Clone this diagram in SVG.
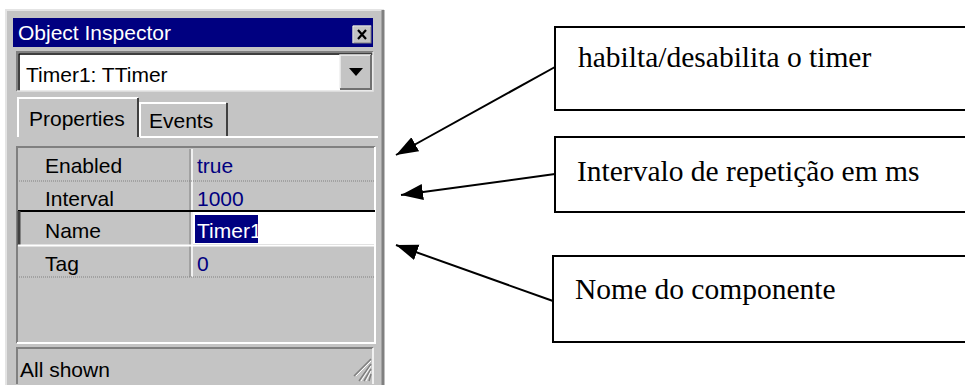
<svg xmlns="http://www.w3.org/2000/svg" width="965" height="385" viewBox="0 0 965 385">
<style>
.ui{font-family:"Liberation Sans",Arial,sans-serif;font-size:21px;fill:#000}
.val{fill:#000080}
.note{fill:#fff;stroke:#000;stroke-width:2}
.nt{font-family:"Liberation Serif","Times New Roman",serif;font-size:29.5px;fill:#000}
.conn{stroke:#000;stroke-width:2;fill:none;marker-end:url(#ah)}
.dot{stroke:#808080;stroke-width:1;stroke-dasharray:1 1}
</style>
<defs>
<marker id="ah" markerUnits="userSpaceOnUse" markerWidth="24" markerHeight="18" refX="22" refY="8" orient="auto">
<path d="M0,0 L22,8 L0,16 z" fill="#000"/>
</marker>
</defs>
<rect width="965" height="385" fill="#fff"/>
<g id="inspector">
<rect x="6" y="10" width="378" height="380" fill="#c4c4c4"/>
<path d="M6,390 V10 H384" fill="none" stroke="#e4e4e4" stroke-width="2"/>
<path d="M383,10 V390" fill="none" stroke="#808080" stroke-width="3"/>
<rect x="13" y="18" width="360" height="29" fill="#000080"/>
<text x="18" y="40" class="ui" style="fill:#fff">Object Inspector</text>
<g id="close">
<rect x="353" y="26" width="18" height="17" fill="#c4c4c4" stroke="#808080"/>
<path d="M353,43 V26 H371" fill="none" stroke="#fff"/>
<path d="M358,30 L366,39 M366,30 L358,39" stroke="#000" stroke-width="2.2"/>
</g>
<rect x="17" y="52" width="356" height="39" fill="#fff"/>
<path d="M17,91 V52 H373" fill="none" stroke="#808080" stroke-width="2"/>
<path d="M19,91 V54 H373" fill="none" stroke="#000" stroke-width="1.5"/>
<path d="M17,91 H373 V52" fill="none" stroke="#e4e4e4" stroke-width="1.5"/>
<text x="26" y="82" class="ui">Timer1: TTimer</text>
<g id="dropdown">
<rect x="340" y="55" width="31" height="34" fill="#c4c4c4"/>
<path d="M340,89 V55 H371" fill="none" stroke="#f0f0f0" stroke-width="1.5"/>
<path d="M340,89 H371 V55" fill="none" stroke="#707070" stroke-width="2"/>
<path d="M349,68 H363 L356,76 z" fill="#000"/>
</g>
<g id="tabs">
<path d="M18,137 V98 H138" fill="none" stroke="#fff" stroke-width="2"/>
<path d="M138,98 V137" fill="none" stroke="#404040" stroke-width="2"/>
<path d="M140,137 V103 H226" fill="none" stroke="#fff" stroke-width="2"/>
<path d="M227,103 V137" fill="none" stroke="#404040" stroke-width="2"/>
<path d="M140,137 H378" fill="none" stroke="#fff" stroke-width="2"/>
<text x="29" y="126" class="ui">Properties</text>
<text x="149" y="128" class="ui">Events</text>
</g>
<g id="grid">
<rect x="17" y="147" width="358" height="196" fill="#c4c4c4"/>
<path d="M17,343 V147 H375" fill="none" stroke="#808080" stroke-width="2"/>
<path d="M17,343 H375 V147" fill="none" stroke="#fff" stroke-width="2"/>
<path d="M190,149 V277" stroke="#808080" stroke-width="1"/>
<path d="M192,149 V277" stroke="#fff" stroke-width="1.5"/>
<line x1="19" y1="181" x2="374" y2="181" class="dot"/>
<line x1="19" y1="277" x2="374" y2="277" class="dot"/>
<rect x="193" y="212" width="181" height="32" fill="#fff"/>
<path d="M18,211 H375" stroke="#000" stroke-width="2"/>
<path d="M19,211 V245" stroke="#404040" stroke-width="3"/>
<path d="M18,245.5 H375" stroke="#fff" stroke-width="2"/>
<rect x="195" y="215" width="63" height="28" fill="#000080"/>
<text x="45" y="173" class="ui">Enabled</text>
<text x="197" y="173" class="ui val">true</text>
<text x="45" y="206" class="ui">Interval</text>
<text x="197" y="206" class="ui val">1000</text>
<text x="45" y="238" class="ui">Name</text>
<text x="197" y="238" class="ui" style="fill:#fff">Timer1</text>
<text x="45" y="271" class="ui">Tag</text>
<text x="197" y="271" class="ui val">0</text>
</g>
<g id="status">
<path d="M17,384 V348 H373" fill="none" stroke="#808080" stroke-width="2"/>
<path d="M373,348 V384" fill="none" stroke="#fff" stroke-width="1.5"/>
<text x="20" y="377" class="ui">All shown</text>
<path d="M371,359 L354,376 M371,364 L359,381 M371,369 L364,381 M371,374 L369,381" stroke="#808080" stroke-width="1.5"/>
<path d="M371,361 L356,376 M371,366 L361,381 M371,371 L366,381" stroke="#fff" stroke-width="1"/>
</g>
</g>
<g id="connectors">
<line x1="555" y1="67" x2="396" y2="155" class="conn"/>
<line x1="555" y1="174" x2="401" y2="195" class="conn"/>
<line x1="553" y1="301" x2="396" y2="245" class="conn"/>
</g>
<g id="note-enabled">
<rect x="555" y="27" width="420" height="83" class="note"/>
<text x="578" y="67" class="nt">habilta/desabilita o timer</text>
</g>
<g id="note-interval">
<rect x="555" y="137" width="420" height="75" class="note"/>
<text x="577" y="181" class="nt">Intervalo de repetição em ms</text>
</g>
<g id="note-name">
<rect x="553" y="256" width="422" height="86" class="note"/>
<text x="575" y="299" class="nt">Nome do componente</text>
</g>
</svg>
